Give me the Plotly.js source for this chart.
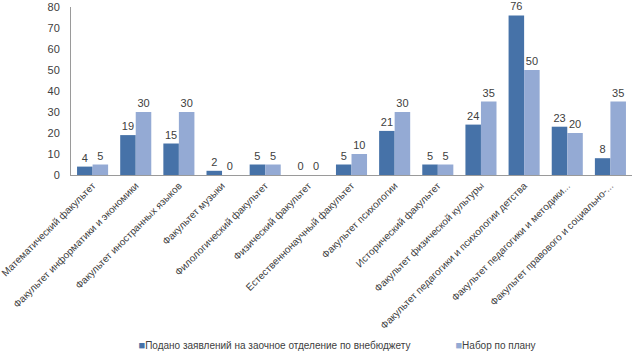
<!DOCTYPE html>
<html>
<head>
<meta charset="utf-8">
<script src="https://cdn.plot.ly/plotly-3.0.1.min.js"></script>
<style>html,body{margin:0;padding:0;background:#fff;}#chart{width:640px;height:355px;}</style>
</head>
<body>
<div id="chart"></div>
<script>
const categories = [
  "Математический факультет",
  "Факультет информатики и экономики",
  "Факультет иностранных языков",
  "Факультет музыки",
  "Филологический факультет",
  "Физический факультет",
  "Естественнонаучный факультет",
  "Факультет психологии",
  "Исторический факультет",
  "Факультет физической культуры",
  "Факультет педагогики и психологии детства",
  "Факультет педагогики и методики...",
  "Факультет правового и социально-..."
];
const seriesNames = ["Подано заявлений на заочное отделение по внебюджету", "Набор по плану"];
const applied = [4, 19, 15, 2, 5, 0, 5, 21, 5, 24, 76, 23, 8];
const plan = [5, 30, 30, 0, 5, 0, 10, 30, 5, 35, 50, 20, 35];
const yTicks = [0, 10, 20, 30, 40, 50, 60, 70, 80];
const colors = ["#4672A8", "#94AAD4"];

const FONT = "Liberation Sans, Arial, sans-serif";
const textFont = {family: FONT, size: 11, color: "#404040"};

const traces = [
  {type: "bar", name: seriesNames[0], x: categories, y: applied, showlegend: false,
   marker: {color: colors[0]}, text: applied.map(String), textposition: "outside",
   textfont: textFont, cliponaxis: false},
  {type: "bar", name: seriesNames[1], x: categories, y: plan, showlegend: false,
   marker: {color: colors[1]}, text: plan.map(String), textposition: "outside",
   textfont: textFont, cliponaxis: false}
];
// legend entries: coloured square glyph drawn in the text, symbol itself hidden
seriesNames.forEach((n, i) => {
  traces.push({type: "scatter", mode: "markers", x: [null], y: [null], hoverinfo: "skip",
    marker: {size: 1, opacity: 0, color: "rgba(0,0,0,0)", line: {width: 0, color: "rgba(0,0,0,0)"}},
    name: "<span style='color:" + colors[i] + ";font-size:11px'>■</span>" + n});
});

const layout = {
  width: 640, height: 355,
  margin: {l: 71, r: 8, t: 7, b: 180},
  paper_bgcolor: "#fff", plot_bgcolor: "#fff",
  barmode: "group", bargap: 0.28, bargroupgap: 0,
  font: {family: FONT, size: 10, color: "#404040"},
  showlegend: true,
  legend: {orientation: "h", x: 0.5, xanchor: "center", xref: "container",
           y: 0.028, yanchor: "middle", yref: "container",
           font: {family: FONT, size: 10, color: "#404040"},
           itemwidth: 30, tracegroupgap: 0},
  xaxis: {type: "category", tickangle: -45, showline: true, linecolor: "#9a9a9a",
          linewidth: 1, ticks: "", showgrid: false, zeroline: false,
          tickfont: {family: FONT, size: 10, color: "#404040"}, automargin: false},
  yaxis: {range: [0, 80], tickvals: yTicks, ticktext: yTicks.map(String),
          showline: true, linecolor: "#9a9a9a", linewidth: 1, ticks: "",
          showgrid: false, zeroline: false, ticklabelstandoff: 8,
          tickfont: {family: FONT, size: 11, color: "#404040"}, automargin: false}
};

Plotly.newPlot("chart", traces, layout, {displayModeBar: false, staticPlot: true});
</script>
</body>
</html>
